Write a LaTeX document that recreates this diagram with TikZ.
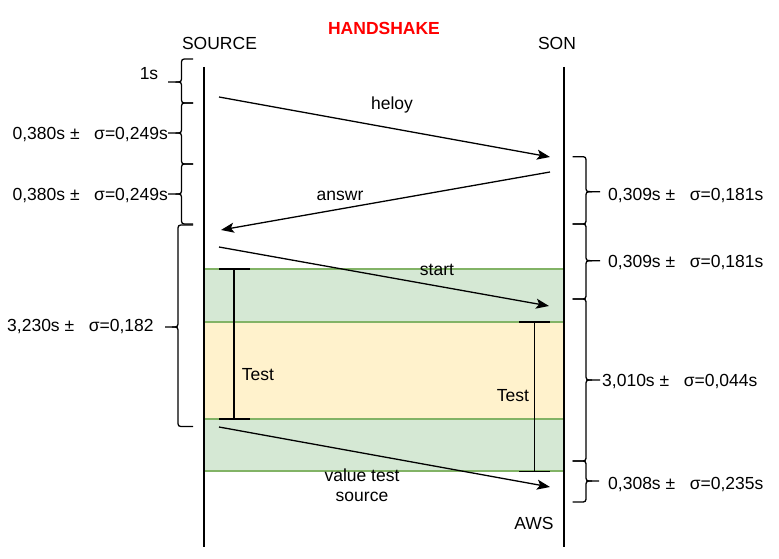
\documentclass[tikz,border=0pt]{standalone}
\usepackage{fontspec}
\setmainfont{Liberation Sans}
\usetikzlibrary{arrows.meta}
\definecolor{bandgreen}{HTML}{D5E8D4}
\definecolor{bandgreenline}{HTML}{82B366}
\definecolor{bandyellow}{HTML}{FFF2CC}
\definecolor{titlered}{HTML}{FF0000}
\tikzset{
  txt/.style={font=\fontsize{17.5}{21}\selectfont, inner sep=0pt, anchor=base},
  lifeline/.style={line width=1.5pt, black},
  msg/.style={line width=1.3pt, -{Stealth[length=13pt,width=10pt,inset=3pt]}},
  brc/.style={line width=1.3pt, line join=round},
  testbar/.style={line width=1.3pt},
  bandline/.style={line width=1.2pt, bandgreenline}
}
% left-opening brace: x open end, x spine, x tip, y top, y tip, y bottom
\newcommand\BrLeft[6]{%
  \draw[brc] (#1,#4) -- ({#2+6},#4) .. controls (#2,#4) .. (#2,{#4+6})
    -- (#2,{#5-6}) .. controls (#2,#5) .. ({#2-6},#5) -- (#3,#5);
  \draw[brc] ({#2-6},#5) .. controls (#2,#5) .. (#2,{#5+6})
    -- (#2,{#6-6}) .. controls (#2,#6) .. ({#2+6},#6) -- (#1,#6);}
\newcommand\BrRight[6]{%
  \draw[brc] (#1,#4) -- ({#2-6},#4) .. controls (#2,#4) .. (#2,{#4+6})
    -- (#2,{#5-6}) .. controls (#2,#5) .. ({#2+6},#5) -- (#3,#5);
  \draw[brc] ({#2+6},#5) .. controls (#2,#5) .. (#2,{#5+6})
    -- (#2,{#6-6}) .. controls (#2,#6) .. ({#2-6},#6) -- (#1,#6);}
\begin{document}
\begin{tikzpicture}[x=1pt,y=-1pt]
\useasboundingbox (0,0) rectangle (779,559);
% bands
\fill[bandgreen] (204,269) rectangle (564,322);
\fill[bandyellow] (204,322) rectangle (564,419);
\fill[bandgreen] (204,419) rectangle (564,471);
\foreach \yy in {269,322,419,471} \draw[bandline] (204,\yy) -- (564,\yy);
% lifelines
\coordinate (srcTop) at (204,67);
\coordinate (srcBot) at (204,547);
\coordinate (sonTop) at (564,67);
\coordinate (sonBot) at (564,547);
\draw[lifeline] (srcTop) -- (srcBot);
\draw[lifeline] (sonTop) -- (sonBot);
% titles
\node[txt, font=\fontsize{17.5}{21}\selectfont\bfseries, text=titlered] (title) at (384,35) {HANDSHAKE};
\node[txt] (source) at (219.5,49.5) {SOURCE};
\node[txt] (son) at (557,49.5) {SON};
% messages
\coordinate (m1a) at (219,97);  \coordinate (m1b) at (550,157);
\coordinate (m2a) at (550,172); \coordinate (m2b) at (221,230);
\coordinate (m3a) at (219,247); \coordinate (m3b) at (549,306);
\coordinate (m4a) at (219,427); \coordinate (m4b) at (550,487);
\draw[msg] (m1a) -- (m1b);
\draw[msg] (m2a) -- (m2b);
\draw[msg] (m3a) -- (m3b);
\draw[msg] (m4a) -- (m4b);
\node[txt] (lheloy) at (392,110) {heloy};
\node[txt] (lanswr) at (340,200) {answr};
\node[txt] (lstart) at (437,275) {start};
\node[txt] (lvalue1) at (362,481.5) {value test};
\node[txt] (lvalue2) at (362,501.5) {source};
\node[txt] (aws) at (534,529) {AWS};
% test bars
\coordinate (t1a) at (234,269); \coordinate (t1b) at (234,419);
\draw[testbar] (t1a) -- (t1b);
\draw[testbar] (219,269) -- (250,269);
\draw[testbar] (219,419) -- (250,419);
\node[txt] (test1) at (258,380) {Test};
\coordinate (t2a) at (534.5,322); \coordinate (t2b) at (534.5,471.5);
\draw[testbar] (t2a) -- (t2b);
\draw[testbar] (519,322) -- (550,322);
\draw[testbar] (519,471.5) -- (550,471.5);
\node[txt] (test2) at (513,401) {Test};
% left braces
\BrLeft{193}{181.5}{168}{59}{82}{103}
\BrLeft{193}{181.5}{168}{103}{133}{164}
\BrLeft{193}{181.5}{168}{164}{194}{224}
\BrLeft{193}{178}{165}{225}{327}{426.5}
\node[txt] (b1) at (149,79.5) {1s};
\node[txt, anchor=base east] (b2) at (168,140) {0,380s ±\ \ \ σ=0,249s};
\node[txt, anchor=base east] (b3) at (168,200.7) {0,380s ±\ \ \ σ=0,249s};
\node[txt, anchor=base west] (b4) at (7,331.7) {3,230s ±\ \ \ σ=0,182};
% right braces
\BrRight{572.5}{586}{600}{156.7}{191.7}{224}
\BrRight{572.5}{586}{600}{224}{260.7}{299}
\BrRight{572.5}{586}{600}{299}{380}{461}
\BrRight{572.5}{586}{599}{461}{481}{502}
\node[txt, anchor=base west] (r1) at (608,200.7) {0,309s ±\ \ \ σ=0,181s};
\node[txt, anchor=base west] (r2) at (608,267.3) {0,309s ±\ \ \ σ=0,181s};
\node[txt, anchor=base west] (r3) at (602,386) {3,010s ±\ \ \ σ=0,044s};
\node[txt, anchor=base west] (r4) at (608,489) {0,308s ±\ \ \ σ=0,235s};
\end{tikzpicture}
\end{document}
